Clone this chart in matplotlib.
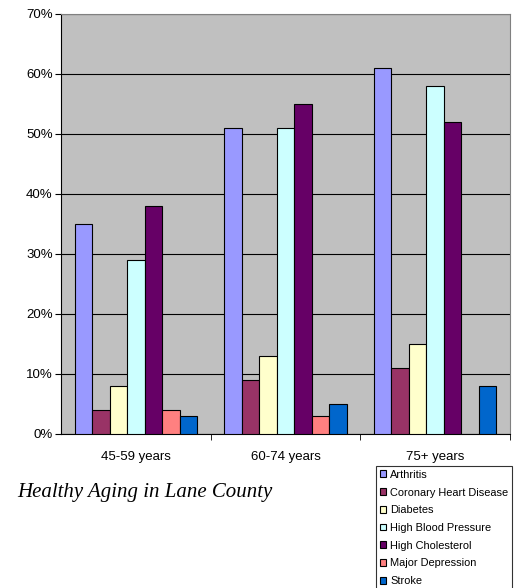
import numpy as np
import matplotlib.pyplot as plt
from matplotlib.ticker import PercentFormatter

# Data
groups = ["45-59 years", "60-74 years", "75+ years"]
conditions = ["Arthritis", "Coronary Heart Disease", "Diabetes",
              "High Blood Pressure", "High Cholesterol", "Major Depression", "Stroke"]
arthritis = [35, 51, 61]
heart_disease = [4, 9, 11]
diabetes = [8, 13, 15]
blood_pressure = [29, 51, 58]
cholesterol = [38, 55, 52]
depression = [4, 3, 0]
stroke = [3, 5, 8]
colors = ["#9999FF", "#993366", "#FFFFCC", "#CCFFFF", "#660066", "#FF8080", "#0066CC"]

series = [arthritis, heart_disease, diabetes, blood_pressure, cholesterol, depression, stroke]

plt.rcParams["font.family"] = ["Liberation Sans", "DejaVu Sans"]
fig = plt.figure(figsize=(5.15, 5.88), dpi=100)
ax = fig.add_axes([61 / 515, 1 - 434 / 588, 449 / 515, 420 / 588])
ax.set_facecolor("#C0C0C0")

x = np.arange(len(groups))
width = 0.117
for i, (vals, c, name) in enumerate(zip(series, colors, conditions)):
    offs = (i - 3) * width
    v = np.array(vals, dtype=float)
    ax.bar(x + offs, np.where(v > 0, v, np.nan), width, color=c, edgecolor="black",
           linewidth=0.8, label=name, zorder=3)

ax.set_xlim(-0.5, 2.5)
ax.set_ylim(0, 70)
ax.set_yticks(range(0, 71, 10))
ax.yaxis.set_major_formatter(PercentFormatter(decimals=0))
ax.yaxis.grid(True, color="black", linewidth=0.8, zorder=1)
ax.set_xticks(x)
ax.set_xticklabels(groups, fontsize=9.5)
ax.set_xticks([0.5, 1.5, 2.5], minor=True)
ax.tick_params(axis="x", which="major", length=0, pad=12)
ax.tick_params(axis="x", which="minor", length=4, direction="out")
ax.tick_params(axis="y", length=4, labelsize=9.5, pad=2)
for s in ["top", "right"]:
    ax.spines[s].set_color("#808080")
ax.spines["left"].set_color("black")
ax.spines["bottom"].set_color("black")

fig.text(17 / 515, 1 - 493 / 588, "Healthy Aging in Lane County", fontsize=15,
         style="italic", family=["Liberation Serif", "DejaVu Serif"], va="center")

leg = ax.legend(loc="upper left", bbox_to_anchor=(376 / 515, 1 - 466 / 588),
                bbox_transform=fig.transFigure, fontsize=7.9, frameon=True,
                fancybox=False, edgecolor="black", handlelength=0.6, handleheight=0.6,
                handletextpad=0.35, labelspacing=0.7, borderpad=0.35, borderaxespad=0)
leg.get_frame().set_linewidth(0.8)

plt.savefig("out.png", dpi=100)
